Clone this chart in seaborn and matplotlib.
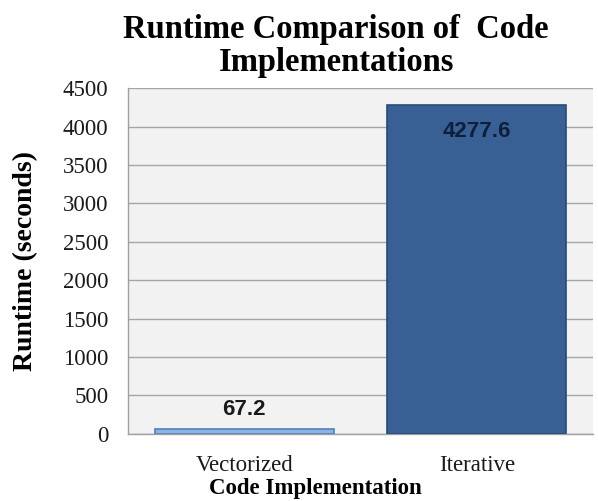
import matplotlib
matplotlib.use("Agg")
import matplotlib.pyplot as plt
import seaborn as sns
import pandas as pd

# data
implementations = ["Vectorized", "Iterative"]
runtimes = [67.2, 4277.6]
bar_colors = ["#8DB3E2", "#386095"]
edge_colors = ["#4F81BD", "#284A7A"]

df = pd.DataFrame({"Implementation": implementations, "Runtime": runtimes})

sns.set_style("white")
plt.rcParams["font.family"] = ["Liberation Serif", "DejaVu Serif"]
plt.rcParams["text.color"] = "black"
plt.rcParams["axes.labelcolor"] = "black"

fig = plt.figure(figsize=(5.98, 5.01), dpi=100)
ax = fig.add_axes([0.214, 0.134, 0.778, 0.690])
ax.set_facecolor("#F2F2F2")

sns.barplot(data=df, x="Implementation", y="Runtime", hue="Implementation",
            palette=bar_colors, saturation=1, width=0.77, legend=False, ax=ax, zorder=3)
for patch, ec in zip(ax.patches, edge_colors):
    patch.set_edgecolor(ec)
    patch.set_linewidth(1.2)

ax.set_ylim(0, 4500)
ax.set_yticks(range(0, 4501, 500))
ax.set_xlim(-0.5, 1.5)
ax.yaxis.grid(True, color="#A6A6A6", linewidth=1.0, zorder=0)
ax.set_axisbelow(True)

for side in ["top", "right"]:
    ax.spines[side].set_visible(False)
for side in ["left", "bottom"]:
    ax.spines[side].set_color("#A0A0A0")
    ax.spines[side].set_linewidth(1.0)

ax.tick_params(axis="y", length=7, color="#A0A0A0", labelcolor="#1A1A1A",
               labelsize=16.5, pad=7)
ax.tick_params(axis="x", length=0, labelcolor="#1A1A1A", labelsize=16.5, pad=15)
ax.set_xticks([0, 1], minor=False)
ax.set_xticks([0.5], minor=True)
ax.tick_params(axis="x", which="minor", length=6, color="#A0A0A0", direction="out")

ax.set_xlabel("Code Implementation", fontsize=16.5, fontweight="bold")
ax.xaxis.set_label_coords(0.402, -0.127)
ax.set_ylabel("Runtime (seconds)", fontsize=20, fontweight="bold")
ax.yaxis.set_label_coords(-0.194, 0.5)
fig.suptitle("Runtime Comparison of  Code\nImplementations", fontsize=23.5,
             fontweight="bold", x=0.562, y=0.972, linespacing=1.1)

ax.text(0, runtimes[0] + 250, f"{runtimes[0]:.1f}", ha="center", va="center",
        fontsize=16, fontweight="bold", family=["Liberation Sans", "DejaVu Sans"],
        color="#1A1A1A")
ax.text(1, runtimes[1] - 340, f"{runtimes[1]:.1f}", ha="center", va="center",
        fontsize=16, fontweight="bold", family=["Liberation Sans", "DejaVu Sans"],
        color="#0F1E3A")

fig.savefig("out.png", dpi=100)
